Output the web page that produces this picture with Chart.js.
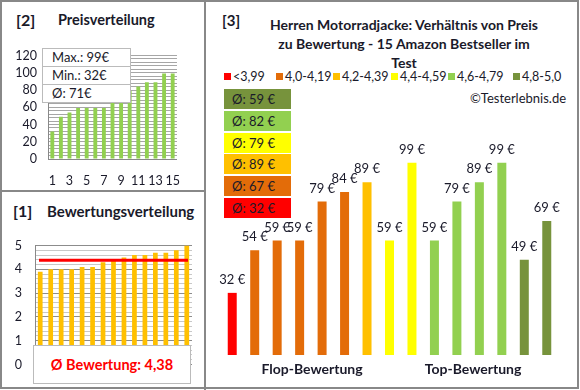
<!DOCTYPE html>
<html>
<head>
<meta charset="utf-8">
<script src="https://cdn.jsdelivr.net/npm/chart.js@4"></script>
<style>
  body { margin: 0; background: #fff; font-family: Lato, sans-serif; color: #1a1a2a; }
  #page { position: relative; width: 580px; height: 390px; overflow: hidden; }
  .abs { position: absolute; white-space: nowrap; line-height: 1; }
  .frame { position: absolute; left: 0; top: 0; width: 575px; height: 385px; border: 2px solid #888; }
  .vline { position: absolute; left: 204px; top: 0; width: 2px; height: 390px; background: #888; }
  .hline { position: absolute; left: 0; top: 190px; width: 205px; height: 2px; background: #888; }
  canvas { position: absolute; }
  .stat { position: absolute; left: 42px; width: 87px; height: 17px; background: #fff; border: 1px solid #bbb; font-size: 13px; line-height: 17px; z-index: 2; }
  .stat span { margin-left: 9px; }
  .avg { position: absolute; left: 224px; width: 67px; height: 20px; font-size: 13px; line-height: 20px; }
  .avg span { margin-left: 8px; }
  .leg { position: absolute; top: 71px; font-size: 12.5px; line-height: 12px; }
  .sq { position: absolute; top: 73px; width: 7px; height: 7px; }
  .tl { position: absolute; left: 234px; width: 340px; font-size: 14px; font-weight: bold; line-height: 16px; height: 16px; text-align: center; white-space: nowrap; }
</style>
</head>
<body>
<div id="page">
  <div class="frame"></div>
  <div class="vline"></div>
  <div class="hline"></div>

  <div class="abs" style="left:16px;top:12px;font-size:16px;font-weight:bold;">[2]</div>
  <div class="abs" style="left:58px;top:13px;font-size:14.5px;font-weight:bold;">Preisverteilung</div>
  <canvas id="priceChart" width="192" height="153" style="left:2px;top:37px;"></canvas>
  <div id="stats"></div>

  <div class="abs" style="left:13px;top:203px;font-size:16px;font-weight:bold;">[1]</div>
  <div class="abs" style="left:47px;top:204px;font-size:15px;font-weight:bold;">Bewertungsverteilung</div>
  <canvas id="ratingChart" width="196" height="160" style="left:2px;top:225px;"></canvas>
  <div id="ratingBox" class="abs" style="left:33px;top:345px;width:156px;height:37px;background:#fff;border:1px solid #bbb;color:#ff0000;font-weight:bold;font-size:14.5px;line-height:37px;text-align:center;z-index:2;"></div>

  <div class="abs" style="left:222px;top:13px;font-size:15px;font-weight:bold;">[3]</div>
  <div class="tl" style="top:17px;">Herren Motorradjacke: Verhältnis von Preis</div>
  <div class="tl" style="top:36px;">zu Bewertung - 15 Amazon Bestseller im</div>
  <div class="tl" style="top:55px;">Test</div>
  <div id="legend"></div>
  <div class="abs" style="left:470px;top:92px;font-size:13px;">©Testerlebnis.de</div>
  <div id="avgBoxes"></div>
  <canvas id="bestChart" width="369" height="300" style="left:207px;top:85px;"></canvas>
</div>

<script>
// Bestseller (Reihenfolge wie im rechten Diagramm)
const bestPrices  = [32, 54, 59, 59, 79, 84, 89, 59, 99, 59, 79, 89, 99, 49, 69];
const bestRatings = [3.9, 4.0, 4.0, 4.0, 4.1, 4.1, 4.3, 4.4, 4.5, 4.6, 4.6, 4.7, 4.7, 4.8, 5.0];

// Bewertungsklassen
const classNames  = ['<3,99', '4,0-4,19', '4,2-4,39', '4,4-4,59', '4,6-4,79', '4,8-5,0'];
const classLimits = [4.0, 4.2, 4.4, 4.6, 4.8];
const groupNames  = ['Flop-Bewertung', 'Top-Bewertung'];

// Farben
const classColors = ['#FF0000', '#E36C09', '#FFC000', '#FFFF00', '#92D050', '#77933C'];

const sortedPrices  = bestPrices.slice().sort((a, b) => a - b);
const sortedRatings = bestRatings.slice().sort((a, b) => a - b);
const positions = bestPrices.map((p, i) => String(i + 1));

function classOf(r) {
    let c = 0;
    classLimits.forEach(l => { if (r >= l - 1e-9) c++; });
    return c;
}
const barClass = bestRatings.map(classOf);

Chart.defaults.font.family = 'Lato, sans-serif';
Chart.defaults.color = '#1a1a2a';
Chart.defaults.animation = false;

// Statistik-Box Preis
const maxP = Math.max(...bestPrices), minP = Math.min(...bestPrices);
const avgP = Math.round(bestPrices.reduce((a, b) => a + b, 0) / bestPrices.length);
const statRows = ['Max.: ' + maxP + '€', 'Min.: ' + minP + '€', 'Ø: ' + avgP + '€'];
document.getElementById('stats').innerHTML = statRows.map((t, i) =>
    '<div class="stat" style="top:' + (48 + i * 18) + 'px"><span>' + t + '</span></div>').join('');

// Bewertungsdurchschnitt
const avgR = bestRatings.reduce((a, b) => a + b, 0) / bestRatings.length;
document.getElementById('ratingBox').textContent = 'Ø Bewertung: ' + avgR.toFixed(2).replace('.', ',');

// Legende
const legX = [224, 276, 333, 391, 448, 513];
document.getElementById('legend').innerHTML = classNames.map((n, i) =>
    '<div class="sq" style="left:' + legX[i] + 'px;background:' + classColors[i] + '"></div>' +
    '<div class="leg" style="left:' + (legX[i] + 9) + 'px">' + n + '</div>').join('');

// Durchschnitt je Klasse
const avgHtml = [];
for (let k = classNames.length - 1; k >= 0; k--) {
    const vals = bestPrices.filter((p, i) => barClass[i] === k);
    const a = Math.round(vals.reduce((s, v) => s + v, 0) / vals.length);
    const row = classNames.length - 1 - k;
    avgHtml.push('<div class="avg" style="top:' + (89 + row * 21.8) + 'px;background:' + classColors[k] + '"><span>Ø: ' + a + ' €</span></div>');
}
document.getElementById('avgBoxes').innerHTML = avgHtml.join('');

// [2] Preisverteilung
new Chart(document.getElementById('priceChart'), {
    type: 'bar',
    data: {
        labels: positions,
        datasets: [{ data: sortedPrices, backgroundColor: '#92D050', barPercentage: 0.45, categoryPercentage: 1 }]
    },
    options: {
        responsive: false,
        layout: { padding: { left: 0, right: 2, top: 7, bottom: 0 } },
        plugins: { legend: { display: false }, tooltip: { enabled: false } },
        scales: {
            x: {
                grid: { display: false, drawTicks: false },
                border: { color: '#888' },
                ticks: { autoSkip: false, maxRotation: 0, padding: 14, font: { size: 12.5 },
                    callback: (v, i) => i % 2 === 0 ? positions[i] : '' },
                afterFit: s => { s.height = 31; }
            },
            y: {
                min: 0, max: 120,
                grid: { color: '#A6A6A6', drawTicks: false },
                border: { color: '#888' },
                ticks: { stepSize: 4, autoSkip: false, padding: 11, font: { size: 12.5 },
                    callback: v => v % 20 === 0 ? v : '' },
                afterFit: s => { s.width = 46; }
            }
        }
    }
});

// [1] Bewertungsverteilung
const avgLine = {
    id: 'avgLine',
    afterDatasetsDraw(chart) {
        const { ctx, chartArea, scales } = chart;
        const y = scales.y.getPixelForValue(avgR);
        ctx.save();
        ctx.strokeStyle = '#FF0000';
        ctx.lineWidth = 3;
        ctx.beginPath();
        ctx.moveTo(chartArea.left + 4, y);
        ctx.lineTo(chartArea.right - 4, y);
        ctx.stroke();
        ctx.restore();
    }
};
new Chart(document.getElementById('ratingChart'), {
    type: 'bar',
    data: {
        labels: positions,
        datasets: [{ data: sortedRatings, backgroundColor: '#FFC000', barPercentage: 0.45, categoryPercentage: 1 }]
    },
    options: {
        responsive: false,
        layout: { padding: { left: 0, right: 6, top: 13, bottom: 13 } },
        plugins: { legend: { display: false }, tooltip: { enabled: false } },
        scales: {
            x: { display: false },
            y: {
                min: 0, max: 5,
                grid: {
                    drawTicks: false,
                    color: c => Math.abs(c.tick.value - Math.round(c.tick.value)) < 1e-6 ? '#8C8C8C' : '#C8C8C8'
                },
                border: { color: '#888' },
                ticks: { stepSize: 0.2, autoSkip: false, padding: 13, font: { size: 12.5 },
                    callback: v => Math.abs(v - Math.round(v)) < 1e-6 ? Math.round(v) : '' },
                afterFit: s => { s.width = 33; }
            }
        }
    },
    plugins: [avgLine]
});

// [3] Preis zu Bewertung
const barLabels = {
    id: 'barLabels',
    afterDatasetsDraw(chart) {
        const { ctx, chartArea, scales } = chart;
        ctx.save();
        ctx.font = '13px Lato, sans-serif';
        ctx.fillStyle = '#1a1a2a';
        ctx.textAlign = 'center';
        ctx.textBaseline = 'middle';
        chart.getDatasetMeta(0).data.forEach((el, i) => {
            ctx.fillText(bestPrices[i] + ' €', el.x, el.y - 13);
        });
        ctx.font = 'bold 14px Lato, sans-serif';
        const groupPos = [3.55, 10.72];
        groupNames.forEach((g, i) => {
            ctx.fillText(g, scales.x.getPixelForValue(groupPos[i]), chartArea.bottom + 14);
        });
        ctx.restore();
    }
};
new Chart(document.getElementById('bestChart'), {
    type: 'bar',
    data: {
        labels: positions,
        datasets: [{
            data: bestPrices,
            backgroundColor: barClass.map(c => classColors[c]),
            barPercentage: 0.4,
            categoryPercentage: 1
        }]
    },
    options: {
        responsive: false,
        layout: { padding: { left: 14, right: 18, top: 37, bottom: 30 } },
        plugins: { legend: { display: false }, tooltip: { enabled: false } },
        scales: {
            x: { display: false },
            y: { display: false, min: 0, max: 120 }
        }
    },
    plugins: [barLabels]
});
</script>
</body>
</html>
